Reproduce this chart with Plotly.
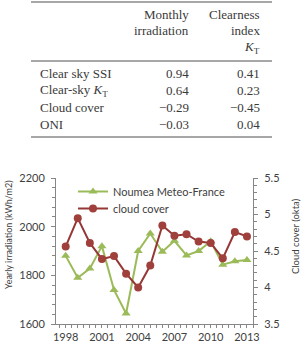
import plotly.graph_objects as go

# ---- table data ----
row_labels = ["Clear sky SSI", "Clear-sky <i>K</i><sub>T</sub>", "Cloud cover", "ONI"]
monthly_irr = ["0.94", "0.64", "\u22120.29", "\u22120.03"]
clearness = ["0.41", "0.23", "\u22120.45", "0.04"]

# ---- chart data ----
years = list(range(1998, 2014))
irradiation = [1880, 1790, 1828, 1920, 1740, 1643, 1900, 1972, 1897, 1942, 1882, 1900, 1940, 1844, 1858, 1863]
cloud_cover = [4.56, 4.95, 4.61, 4.39, 4.43, 4.19, 4.00, 4.30, 4.85, 4.71, 4.73, 4.63, 4.61, 4.40, 4.76, 4.70]
x_ticks = [1998, 2001, 2004, 2007, 2010, 2013]
y_ticks = [1600, 1800, 2000, 2200]
y2_ticks = [3.5, 4, 4.5, 5, 5.5]
y2_labels = ["3.5", "4", "4.5", "5", "5.5"]

W, H = 303, 348
def px(x): return x / W
def py(y): return 1 - y / H

fig = go.Figure()
fig.add_trace(go.Scatter(x=years, y=irradiation, name="Noumea Meteo-France", mode="lines+markers",
                         line=dict(color="#9BBB59", width=2),
                         marker=dict(symbol="triangle-up", size=8, color="#9BBB59"),
                         xaxis="x", yaxis="y", legend="legend"))
fig.add_trace(go.Scatter(x=years, y=cloud_cover, name="cloud cover", mode="lines+markers",
                         line=dict(color="#953735", width=2),
                         marker=dict(symbol="circle", size=8, color="#A0403C"),
                         xaxis="x", yaxis="y2", legend="legend2"))

axcol = "#868686"
sans = "Lato, Open Sans, sans-serif"
tickfont = dict(family=sans, size=11, color="#404040")
legfont = dict(family=sans, size=11, color="#404040")
fig.update_layout(
    width=W, height=H, margin=dict(l=0, r=0, t=0, b=0, autoexpand=False),
    paper_bgcolor="white", plot_bgcolor="white",
    showlegend=True,
    legend=dict(x=px(73), y=py(177), xanchor="left", yanchor="top",
                bgcolor="rgba(255,255,255,0)", font=legfont, itemwidth=30),
    legend2=dict(x=px(73), y=py(194), xanchor="left", yanchor="top",
                 bgcolor="rgba(255,255,255,0)", font=legfont, itemwidth=30),
    xaxis=dict(domain=[px(56), px(253)], range=[1997.2, 2013.5], tickvals=x_ticks,
               ticks="outside", ticklen=3, tickcolor=axcol, showline=True, linecolor=axcol,
               showgrid=False, zeroline=False, tickfont=tickfont,
               minor=dict(dtick=0.5, tick0=1998, ticks="outside", ticklen=3, tickcolor=axcol, showgrid=False),
               anchor="y"),
    yaxis=dict(domain=[1 - 324 / H, 1 - 178 / H], range=[1600, 2200], tickvals=y_ticks,
               ticks="outside", ticklen=4, tickcolor=axcol, showline=True, linecolor=axcol,
               showgrid=False, zeroline=False, tickfont=tickfont, ticklabelstandoff=4,
               minor=dict(dtick=40, tick0=1600, ticks="outside", ticklen=3, tickcolor=axcol, showgrid=False),
               anchor="x"),
    yaxis2=dict(domain=[1 - 324 / H, 1 - 178 / H], range=[3.5, 5.5], tickvals=y2_ticks, ticktext=y2_labels,
                overlaying="y", side="right",
                ticks="outside", ticklen=4, tickcolor=axcol, showline=True, linecolor=axcol,
                showgrid=False, zeroline=False, tickfont=tickfont, ticklabelstandoff=4,
                minor=dict(dtick=0.1, tick0=3.5, ticks="outside", ticklen=3, tickcolor=axcol, showgrid=False),
                anchor="x"),
)

# axis titles
fig.add_annotation(text="Yearly irradiation (kWh/m2)", x=px(8), y=py(235), xref="paper", yref="paper",
                   xanchor="center", yanchor="middle",
                   textangle=-90, showarrow=False, font=dict(family=sans, size=9, color="#404040"))
fig.add_annotation(text="Cloud cover (okta)", x=px(296), y=py(236), xref="paper", yref="paper",
                   xanchor="center", yanchor="middle",
                   textangle=-90, showarrow=False, font=dict(family=sans, size=9.5, color="#404040"))

# ---- table ----
serif = dict(family="Liberation Serif, Times New Roman, serif", size=13, color="#3a3a3a")
for yline in [2, 61, 137]:
    fig.add_shape(type="line", xref="paper", yref="paper", x0=px(31), x1=px(272), y0=py(yline), y1=py(yline),
                  line=dict(color="#8a8a8a", width=1.5))

headers = [("Monthly", 191, 14), ("irradiation", 191, 30.5), ("Clearness", 262, 14), ("index", 262, 30.5),
           ("<i>K</i><sub>T</sub>", 262, 47)]
for t, xr, yc in headers:
    fig.add_annotation(text=t, x=px(xr), y=py(yc), xref="paper", yref="paper", xanchor="right", yanchor="middle",
                       showarrow=False, font=serif)

row_y = [73.5, 90.5, 107.5, 124]
for lab, m, c, yc in zip(row_labels, monthly_irr, clearness, row_y):
    fig.add_annotation(text=lab, x=px(38), y=py(yc), xref="paper", yref="paper", xanchor="left", yanchor="middle",
                       showarrow=False, font=serif)
    fig.add_annotation(text=m, x=px(191), y=py(yc), xref="paper", yref="paper", xanchor="right", yanchor="middle",
                       showarrow=False, font=serif)
    fig.add_annotation(text=c, x=px(262), y=py(yc), xref="paper", yref="paper", xanchor="right", yanchor="middle",
                       showarrow=False, font=serif)

fig.write_html("out.html")
